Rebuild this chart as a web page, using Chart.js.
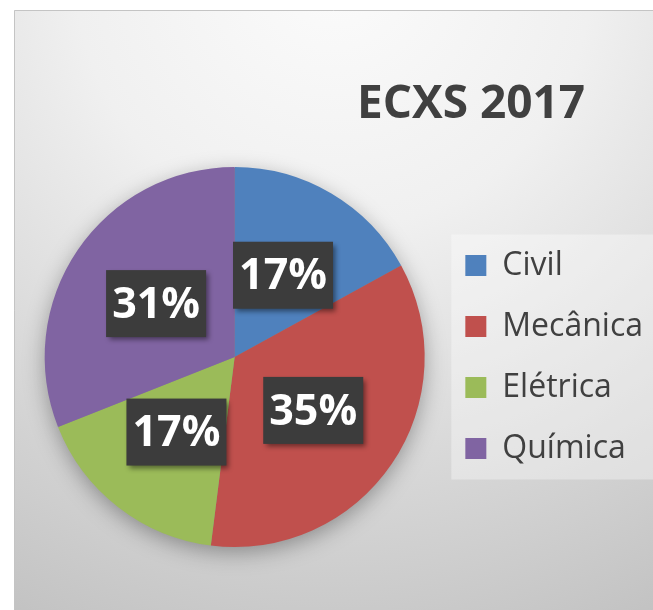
<!DOCTYPE html>
<html>
<head>
<meta charset="utf-8">
<script src="https://cdn.jsdelivr.net/npm/chart.js@4/dist/chart.umd.min.js"></script>
<style>
  html, body { margin: 0; padding: 0; background: #fff; }
  #wrap { position: absolute; left: 14px; top: 10px; width: 639px; height: 600px; }
</style>
</head>
<body>
<div id="wrap"><canvas id="myChart" width="639" height="600"></canvas></div>
<script>
const ctx = document.getElementById("myChart");

const titleText = "ECXS 2017";
const categories = ["Civil", "Mecânica", "Elétrica", "Química"];
const shares = [17, 35, 17, 31];
const sliceColors = ["#4F81BD", "#C0504D", "#9BBB59", "#8064A2"];

// gray gradient panel, legend box, pie shadow and title
const panelPlugin = {
  id: "panel",
  beforeDraw: (chart) => {
    const c = chart.ctx;
    const w = chart.width, h = chart.height;
    c.save();
    const g = c.createRadialGradient(w * 0.5, -40, 10, w * 0.5, -40, 720);
    g.addColorStop(0, "#fbfbfb");
    g.addColorStop(0.35, "#f0f0f0");
    g.addColorStop(1, "#c2c2c2");
    c.fillStyle = g;
    c.fillRect(0, 0, w, h);
    c.strokeStyle = "#c4c4c4";
    c.lineWidth = 1;
    c.beginPath();
    c.moveTo(0.5, h);
    c.lineTo(0.5, 0.5);
    c.lineTo(w, 0.5);
    c.stroke();

    // legend background
    const boxes = chart.legend.legendHitBoxes;
    if (boxes && boxes.length) {
      const top = boxes[0].top - 15;
      const last = boxes[boxes.length - 1];
      const bottom = last.top + last.height + 15;
      const left = boxes[0].left - 14;
      c.fillStyle = "rgba(255,255,255,0.35)";
      c.fillRect(left, top, w - left, bottom - top);
    }

    // title
    c.fillStyle = "#404040";
    c.font = "bold 46px 'Open Sans'";
    c.textAlign = "center";
    c.textBaseline = "alphabetic";
    c.fillText(titleText, 457, 108);
    c.restore();
  },
  beforeDatasetsDraw: (chart) => {
    const arc = chart.getDatasetMeta(0).data[0];
    if (!arc) return;
    const c = chart.ctx;
    c.save();
    c.shadowColor = "rgba(0,0,0,0.35)";
    c.shadowBlur = 22;
    c.shadowOffsetY = 6;
    c.fillStyle = "#888";
    c.beginPath();
    c.arc(arc.x, arc.y, arc.outerRadius - 1, 0, Math.PI * 2);
    c.fill();
    c.restore();
  },
};

// dark percentage boxes on each slice
const labelPlugin = {
  id: "pctLabels",
  afterDatasetsDraw: (chart) => {
    const c = chart.ctx;
    const meta = chart.getDatasetMeta(0);
    const total = shares.reduce((a, b) => a + b, 0);
    meta.data.forEach((arc, i) => {
      const p = arc.tooltipPosition();
      const bw = 100, bh = 67;
      c.save();
      c.shadowColor = "rgba(0,0,0,0.45)";
      c.shadowBlur = 5;
      c.shadowOffsetX = 3;
      c.shadowOffsetY = 3;
      c.fillStyle = "#3c3c3c";
      c.fillRect(p.x - bw / 2, p.y - bh / 2, bw, bh);
      c.restore();
      c.save();
      c.fillStyle = "#ffffff";
      c.font = "bold 43px 'Open Sans'";
      c.textAlign = "center";
      c.textBaseline = "middle";
      c.fillText(Math.round((shares[i] / total) * 100) + "%", p.x, p.y + 2);
      c.restore();
    });
  },
};

const myChart = new Chart(ctx, {
  type: "pie",
  data: {
    labels: categories,
    datasets: [
      {
        data: shares,
        backgroundColor: sliceColors,
        borderWidth: 0,
      },
    ],
  },
  options: {
    responsive: false,
    animation: false,
    layout: {
      padding: { left: 19, top: 157, bottom: 63, right: 0 },
    },
    plugins: {
      legend: {
        position: "right",
        labels: {
          boxWidth: 21,
          boxHeight: 21,
          padding: 29,
          color: "#404040",
          font: { family: "'Open Sans'", size: 32 },
        },
      },
      tooltip: { enabled: false },
    },
  },
  plugins: [panelPlugin, labelPlugin],
});
</script>
</body>
</html>
